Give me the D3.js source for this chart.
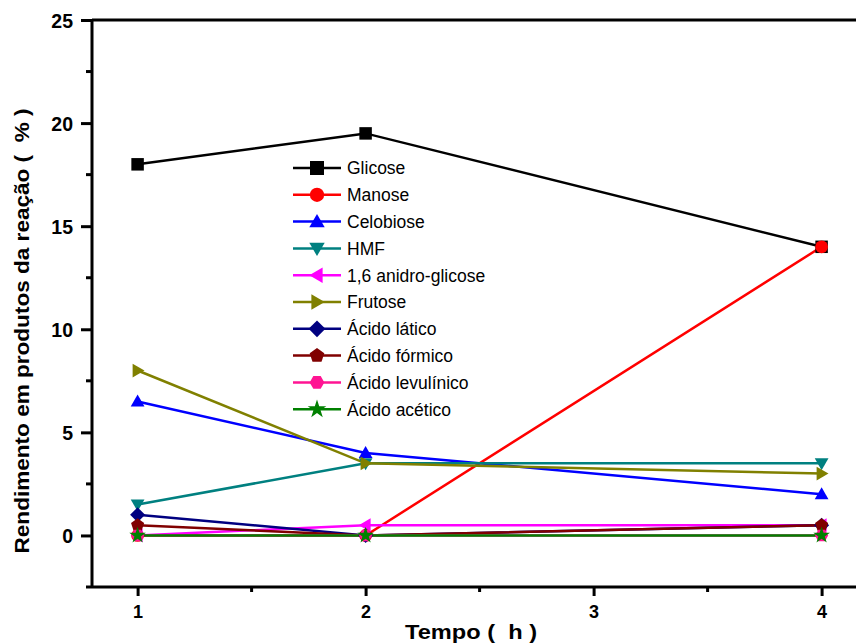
<!DOCTYPE html>
<html><head><meta charset="utf-8">
<script src="https://cdn.jsdelivr.net/npm/d3@7"></script>
<style>body{margin:0;background:#fff}svg{display:block}</style>
</head><body>
<svg id="c" width="856" height="644"></svg>
<script>
const times = [1, 2, 4];
const seriesNames = ["Glicose","Manose","Celobiose","HMF","1,6 anidro-glicose","Frutose","Ácido lático","Ácido fórmico","Ácido levulínico","Ácido acético"];
const glicose = [18, 19.5, 14];
const manose = [0, 0, 14];
const celobiose = [6.5, 4, 2];
const hmf = [1.5, 3.5, 3.5];
const anidro = [0, 0.5, 0.5];
const frutose = [8, 3.5, 3];
const latico = [1, 0, 0.5];
const formico = [0.5, 0, 0.5];
const levulinico = [0, 0, 0];
const acetico = [0, 0, 0];
const seriesValues = [glicose, manose, celobiose, hmf, anidro, frutose, latico, formico, levulinico, acetico];
const colors = ["#000000","#ff0000","#0000ff","#008080","#ff00ff","#808000","#000080","#800000","#ff1493","#008000"];
const markerKinds = ["square","circle","up","down","left","right","diamond","pentagon","hexagon","star"];
const xTicks = [1, 2, 3, 4];
const yTicks = [0, 5, 10, 15, 20, 25];

const FONT = "Liberation Sans, Arial, sans-serif";
const svg = d3.select("#c");
const x = d3.scaleLinear().domain([0.8, 4.2]).range([92, 867.2]);
const y = d3.scaleLinear().domain([-2.5, 25]).range([587, 20]);

function markerPath(kind, s) {
  const r = s / 2;
  const pts = (arr) => "M" + arr.map(p => p.join(",")).join("L") + "Z";
  switch (kind) {
    case "square": return pts([[-r,-r],[r,-r],[r,r],[-r,r]]);
    case "circle": return d3.symbol(d3.symbolCircle, Math.PI * r * r * 1.05)();
    case "up": return pts([[0,-r*1.1],[r*1.1,r*0.8],[-r*1.1,r*0.8]]);
    case "down": return pts([[0,r*1.1],[r*1.1,-r*0.8],[-r*1.1,-r*0.8]]);
    case "left": return pts([[-r*1.1,0],[r*0.8,-r*1.1],[r*0.8,r*1.1]]);
    case "right": return pts([[r*1.1,0],[-r*0.8,-r*1.1],[-r*0.8,r*1.1]]);
    case "diamond": return pts([[0,-r*1.2],[r*1.2,0],[0,r*1.2],[-r*1.2,0]]);
    case "pentagon": {
      const a = []; for (let i=0;i<5;i++){const t=-Math.PI/2+i*2*Math.PI/5;a.push([r*1.1*Math.cos(t),r*1.1*Math.sin(t)]);} return pts(a);
    }
    case "hexagon": {
      const a = []; for (let i=0;i<6;i++){const t=i*Math.PI/3;a.push([r*1.05*Math.cos(t),r*1.05*Math.sin(t)]);} return pts(a);
    }
    case "star": return d3.symbol(d3.symbolStar, r*r*2.2)();
  }
}

// top line
svg.append("line").attr("x1", 92).attr("x2", 870).attr("y1", 20).attr("y2", 20).attr("stroke","#000").attr("stroke-width",3);

// left axis
const yAxis = d3.axisLeft(y).tickValues(yTicks).tickSize(11).tickPadding(8).tickFormat(d3.format("d"));
const ya = svg.append("g").attr("transform","translate(92,0)").call(yAxis);
ya.select(".domain").attr("stroke-width",3).attr("d","M0,"+y(-2.5)+"V"+y(25));
ya.selectAll(".tick line").attr("stroke-width",3);
ya.selectAll(".tick text").attr("font-family",FONT).attr("font-weight","bold").attr("font-size",19.5).attr("fill","#000").attr("dy","0.36em");
const yMinor = d3.range(-2.5, 25, 5);
svg.append("g").selectAll("line").data(yMinor).join("line")
  .attr("x1",86).attr("x2",92).attr("y1",d=>y(d)).attr("y2",d=>y(d)).attr("stroke","#000").attr("stroke-width",3);

// bottom axis
const xAxis = d3.axisBottom(x).tickValues(xTicks).tickSize(9).tickPadding(9).tickFormat(d3.format("d"));
const xa = svg.append("g").attr("transform","translate(0,587)").call(xAxis);
xa.select(".domain").attr("stroke-width",3).attr("d","M92,0H870");
xa.selectAll(".tick line").attr("stroke-width",3);
xa.selectAll(".tick text").attr("font-family",FONT).attr("font-weight","bold").attr("font-size",18).attr("fill","#000");
const xMinor = [1.5, 2.5, 3.5];
svg.append("g").selectAll("line").data(xMinor).join("line")
  .attr("x1",d=>x(d)).attr("x2",d=>x(d)).attr("y1",587).attr("y2",592).attr("stroke","#000").attr("stroke-width",3);

// titles
svg.append("text").attr("x",471).attr("y",639).attr("text-anchor","middle")
  .attr("font-family",FONT).attr("font-weight","bold").attr("font-size",21)
  .attr("textLength",132).attr("lengthAdjust","spacingAndGlyphs")
  .text("Tempo (\u00a0\u00a0h )");
svg.append("text").attr("transform","translate(29,331) rotate(-90)").attr("text-anchor","middle")
  .attr("font-family",FONT).attr("font-weight","bold").attr("font-size",20.5)
  .attr("textLength",445).attr("lengthAdjust","spacingAndGlyphs")
  .text("Rendimento em produtos da reação (\u00a0\u00a0%\u00a0)");

// series
const line = d3.line().x((d,i)=>x(times[i])).y(d=>y(d));
seriesValues.forEach((vals, i) => {
  svg.append("path").attr("d", line(vals)).attr("fill","none").attr("stroke",colors[i]).attr("stroke-width",2.5);
});
seriesValues.forEach((vals, i) => {
  svg.append("g").selectAll("path").data(vals).join("path")
    .attr("transform",(d,j)=>`translate(${x(times[j])},${y(d)})`)
    .attr("d", markerPath(markerKinds[i], 12.5)).attr("fill",colors[i]);
});

// legend
const legX = 293, legY0 = 168, legDy = 26.8;
const leg = svg.append("g");
seriesNames.forEach((name,i)=>{
  const yy = legY0 + i*legDy;
  leg.append("line").attr("x1",legX).attr("x2",legX+48).attr("y1",yy).attr("y2",yy).attr("stroke",colors[i]).attr("stroke-width",2.5);
  leg.append("path").attr("transform",`translate(${legX+24},${yy})`).attr("d",markerPath(markerKinds[i],14)).attr("fill",colors[i]);
  leg.append("text").attr("x",legX+54).attr("y",yy).attr("dy","0.36em")
    .attr("font-family",FONT).attr("font-size",17.5).text(name);
});
</script>
</body></html>
